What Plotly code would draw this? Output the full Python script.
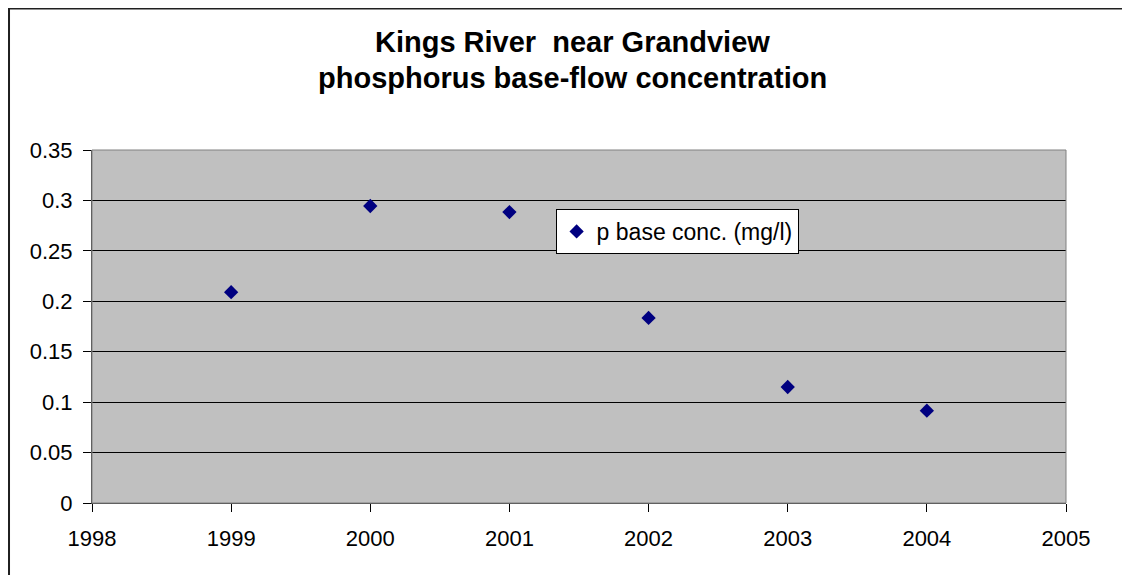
import plotly.graph_objects as go

years = [1999, 2000, 2001, 2002, 2003, 2004]
p_base_conc = [0.209, 0.2945, 0.2885, 0.1835, 0.115, 0.0915]
series_name = "p base conc. (mg/l)"
title_line1 = "Kings River  near Grandview"
title_line2 = "phosphorus base-flow concentration"
x_ticks = [1998, 1999, 2000, 2001, 2002, 2003, 2004, 2005]
y_ticks = [0, 0.05, 0.1, 0.15, 0.2, 0.25, 0.3, 0.35]
y_tick_text = ["0", "0.05", "0.1", "0.15", "0.2", "0.25", "0.3", "0.35"]

FONT = "Liberation Sans, Arial, sans-serif"

fig = go.Figure()
fig.add_trace(go.Scatter(
    x=years, y=p_base_conc, mode="markers", name=series_name,
    marker=dict(symbol="diamond", size=11, color="#000080",
                line=dict(width=0)),
    showlegend=True,
))

# plot area in figure px: x 84..1058, y 142..495
fig.update_layout(
    width=1130, height=575,
    margin=dict(l=84, r=72, t=142, b=80),
    paper_bgcolor="white",
    plot_bgcolor="#C0C0C0",
    font=dict(family=FONT, size=22, color="black"),
    showlegend=True,
    legend=dict(x=0.476, y=0.833, xanchor="left", yanchor="top",
                bgcolor="white", bordercolor="black", borderwidth=1,
                font=dict(size=23), itemwidth=30,
                tracegroupgap=0),
    xaxis=dict(range=[1998, 2005], tickvals=x_ticks,
               ticktext=[str(v) for v in x_ticks],
               showgrid=False, zeroline=False,
               showline=True, linecolor="#404040", linewidth=1,
               ticks="outside", ticklen=8, tickcolor="black",
               ticklabelstandoff=8,
               tickfont=dict(size=22)),
    yaxis=dict(range=[0, 0.35], tickvals=y_ticks, ticktext=y_tick_text,
               showgrid=True, gridcolor="black", gridwidth=1,
               zeroline=False,
               showline=True, linecolor="#404040", linewidth=1,
               ticks="outside", ticklen=8, tickcolor="black",
               ticklabelstandoff=6,
               tickfont=dict(size=22)),
    shapes=[
        dict(type="rect", xref="paper", yref="paper", x0=0, x1=1, y0=0, y1=1,
             line=dict(color="#808080", width=1), layer="above"),
        dict(type="rect", xref="paper", yref="paper", x0=-0.0852, x1=1.2,
             y0=-0.4, y1=1.4008, line=dict(color="#202020", width=2)),
    ],
    annotations=[
        dict(text="<b>" + title_line1 + "</b>", xref="paper", yref="paper",
             x=0.4938, y=(495 - 34) / 353, xanchor="center", yanchor="middle",
             showarrow=False, font=dict(size=29, family=FONT)),
        dict(text="<b>" + title_line2 + "</b>", xref="paper", yref="paper",
             x=0.4938, y=(495 - 70) / 353, xanchor="center", yanchor="middle",
             showarrow=False, font=dict(size=29, family=FONT)),
    ],
)

fig.write_html("out.html")
